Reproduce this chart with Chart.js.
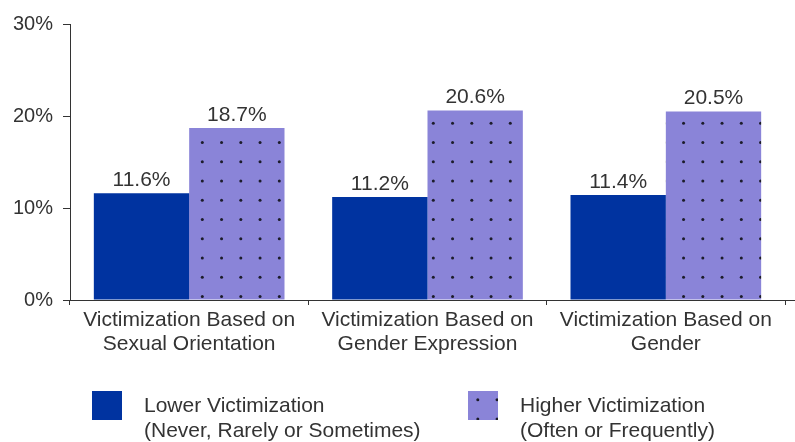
<!DOCTYPE html>
<html>
<head>
<meta charset="utf-8">
<script src="https://cdn.jsdelivr.net/npm/chart.js@4/dist/chart.umd.min.js"></script>
<style>
    html, body { margin: 0; padding: 0; background: #fff; }
    #wrap { width: 795px; height: 442px; }
</style>
</head>
<body>
<div id="wrap"><canvas id="myChart" width="795" height="442"></canvas></div>
<script>
var categories = [
    ["Victimization Based on", "Sexual Orientation"],
    ["Victimization Based on", "Gender Expression"],
    ["Victimization Based on", "Gender"]
]
var lowerValues = [11.6, 11.2, 11.4]
var higherValues = [18.7, 20.6, 20.5]
var seriesLabels = [
    ["Lower Victimization", "(Never, Rarely or Sometimes)"],
    ["Higher Victimization", "(Often or Frequently)"]
]
var yTicks = [0, 10, 20, 30]

var BLUE = "#0033a0"
var PURPLE = "#8a84d8"
var TEXT = "#333333"
var FONT = "'Liberation Sans', Arial, sans-serif"

// dotted fill, tile of 4x4 dots so spacing can be 19.25px
function dotPattern() {
    var size = 77, step = 19.25
    var c = document.createElement("canvas")
    c.width = size
    c.height = size
    var g = c.getContext("2d")
    g.fillStyle = PURPLE
    g.fillRect(0, 0, size, size)
    g.fillStyle = "#1c1c2a"
    for (var i = 0; i < 4; i++) {
        for (var j = 0; j < 4; j++) {
            g.beginPath()
            g.arc(9.8 + i * step, 7.8 + j * step, 1.5, 0, Math.PI * 2)
            g.fill()
        }
    }
    var ctx = document.getElementById("myChart").getContext("2d")
    return ctx.createPattern(c, "repeat")
}

var pattern = dotPattern()

var barLabels = {
    id: "barLabels",
    afterDatasetsDraw: function (chart) {
        var ctx = chart.ctx
        ctx.save()
        ctx.font = "21px " + FONT
        ctx.fillStyle = TEXT
        ctx.textAlign = "center"
        ctx.textBaseline = "alphabetic"
        chart.data.datasets.forEach(function (ds, i) {
            chart.getDatasetMeta(i).data.forEach(function (bar, k) {
                ctx.fillText(ds.data[k].toFixed(1) + "%", bar.x, bar.y - 7)
            })
        })
        ctx.restore()
    }
}

var extras = {
    id: "extras",
    afterDraw: function (chart) {
        var ctx = chart.ctx
        var area = chart.chartArea
        ctx.save()
        // axis line runs on past the last category
        ctx.strokeStyle = TEXT
        ctx.lineWidth = 1
        ctx.beginPath()
        ctx.moveTo(area.right, area.bottom + 0.5)
        ctx.lineTo(chart.width, area.bottom + 0.5)
        ctx.stroke()

        // legend
        var items = [
            { x: 92, fill: BLUE, text: seriesLabels[0] },
            { x: 468, fill: pattern, text: seriesLabels[1] }
        ]
        ctx.font = "21px " + FONT
        ctx.textAlign = "left"
        ctx.textBaseline = "alphabetic"
        items.forEach(function (it) {
            ctx.save()
            ctx.translate(6, 7)
            ctx.fillStyle = it.fill
            ctx.fillRect(it.x - 6, 391 - 7, 30, 29)
            ctx.restore()
            ctx.fillStyle = TEXT
            ctx.fillText(it.text[0], it.x + 52, 412)
            ctx.fillText(it.text[1], it.x + 52, 437)
        })
        ctx.restore()
    }
}

var chart = new Chart(document.getElementById("myChart").getContext("2d"), {
    type: "bar",
    data: {
        labels: categories,
        datasets: [
            { label: seriesLabels[0].join(" "), data: lowerValues, backgroundColor: BLUE },
            { label: seriesLabels[1].join(" "), data: higherValues, backgroundColor: pattern }
        ]
    },
    options: {
        responsive: false,
        animation: false,
        layout: { padding: { top: 24, right: 10, left: 0, bottom: 0 } },
        plugins: {
            legend: { display: false },
            tooltip: { enabled: false }
        },
        datasets: {
            bar: { categoryPercentage: 0.8, barPercentage: 1.0 }
        },
        scales: {
            x: {
                grid: {
                    offset: true,
                    drawOnChartArea: false,
                    color: TEXT,
                    tickLength: 5
                },
                border: { color: TEXT },
                ticks: {
                    color: TEXT,
                    font: { family: FONT, size: 21, lineHeight: 1.143 },
                    padding: 3,
                    maxRotation: 0
                },
                afterFit: function (scale) { scale.height = 142 }
            },
            y: {
                min: 0,
                max: 30,
                afterBuildTicks: function (scale) {
                    scale.ticks = yTicks.map(function (v) { return { value: v } })
                },
                grid: {
                    drawOnChartArea: false,
                    color: TEXT,
                    tickLength: 7
                },
                border: { color: TEXT },
                ticks: {
                    color: TEXT,
                    font: { family: FONT, size: 20 },
                    padding: 10,
                    callback: function (v) { return v + "%" }
                },
                afterFit: function (scale) { scale.width = 70 }
            }
        }
    },
    plugins: [barLabels, extras]
})
</script>
</body>
</html>
